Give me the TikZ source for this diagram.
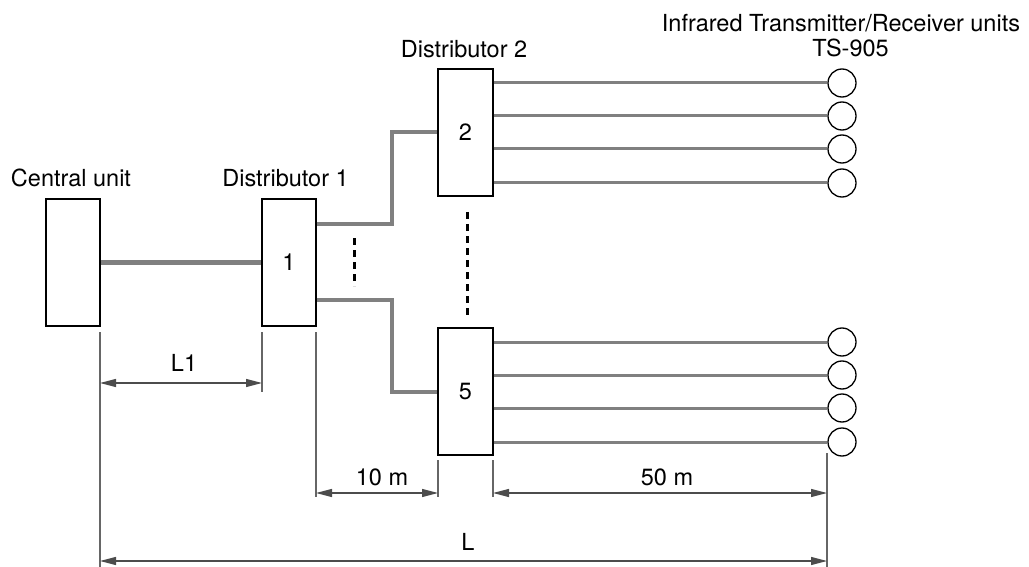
\documentclass[tikz,border=0pt]{standalone}
\usepackage{fontspec}
\setmainfont{TeX Gyre Heros}
\usetikzlibrary{arrows.meta}
\begin{document}
\begin{tikzpicture}[x=1pt,y=-1pt,
  unitbox/.style={draw=black,line width=1.3pt,fill=white,minimum width=54pt,minimum height=127pt,inner sep=0pt,font=\fontsize{23.5}{28}\selectfont},
  rx/.style={draw=black,line width=1.3pt,circle,minimum size=28pt,inner sep=0pt},
  maincable/.style={draw=black!50,line width=5pt},
  cable/.style={draw=black!50,line width=4pt},
  wire/.style={draw=black!50,line width=3pt},
  dimtick/.style={draw=black!60,line width=1.2pt},
  dimarr/.style={draw=black!70,line width=1.2pt,{Triangle[length=16pt,width=8pt]}-{Triangle[length=16pt,width=8pt]}},
  dots/.style={draw=black,line width=3pt,dash pattern=on 7pt off 5pt},
  lab/.style={font=\fontsize{23.5}{28}\selectfont,inner sep=0pt,anchor=base}]
\useasboundingbox (0,0) rectangle (1029,567);
\fill[white] (0,0) rectangle (1029,567);
% boxes
\node[unitbox] (cu) at (73,262.5) {};
\node[unitbox] (d1) at (289,262.5) {1};
\node[unitbox,minimum width=55pt] (d2) at (465.5,132.5) {2};
\node[unitbox,minimum width=55pt] (d5) at (465.5,391.5) {5};
% labels
\node[lab] (tcu) at (71,187) {Central unit};
\node[lab] (td1) at (285.5,187) {Distributor 1};
\node[lab] (td2) at (464,57.3) {Distributor 2};
\node[lab] (tir) at (841,31.7) {Infrared Transmitter/Receiver units};
\node[lab] (tts) at (850.5,57) {TS-905};
% circles
\foreach \y [count=\i] in {83,116,149,183}{
  \node[rx] (c2\i) at (842,\y) {};
  \draw[wire] (d2.east|-0,\y) -- (c2\i.west);
}
\foreach \y [count=\i] in {342,375,408,442}{
  \node[rx] (c5\i) at (842,\y) {};
  \draw[wire] (d5.east|-0,\y) -- (c5\i.west);
}
% cables
\draw[maincable] (cu.east|-0,262) -- (d1.west|-0,262);
\draw[cable] (d1.east|-0,224) -- (392,224) |- (d2.west);
\draw[cable] (d1.east|-0,300) -- (392,300) |- (d5.west);
% dots
\draw[dots] (354,238) -- (354,286);
\draw[dots] (467,212) -- (467,316);
% dimension ticks
\coordinate (a1) at (100,332); \coordinate (a2) at (100,567);
\coordinate (b1) at (262,332); \coordinate (b2) at (262,392);
\coordinate (e1) at (316,332); \coordinate (e2) at (316,497);
\coordinate (f1) at (438,460); \coordinate (f2) at (438,497);
\coordinate (g1) at (493,460); \coordinate (g2) at (493,497);
\coordinate (h1) at (827,453); \coordinate (h2) at (827,567);
\draw[dimtick] (a1) -- (a2);
\draw[dimtick] (b1) -- (b2);
\draw[dimtick] (e1) -- (e2);
\draw[dimtick] (f1) -- (f2);
\draw[dimtick] (g1) -- (g2);
\draw[dimtick] (h1) -- (h2);
% dimension arrows
\draw[dimarr] (100,383) -- (262,383);
\draw[dimarr] (316,493) -- (438,493);
\draw[dimarr] (493,493) -- (827,493);
\draw[dimarr] (100,561) -- (827,561);
\node[lab] (l1) at (184,371.5) {L1};
\node[lab] (l10) at (382,485) {10 m};
\node[lab] (l50) at (667,485) {50 m};
\node[lab] (ll) at (468,550) {L};
\end{tikzpicture}
\end{document}
